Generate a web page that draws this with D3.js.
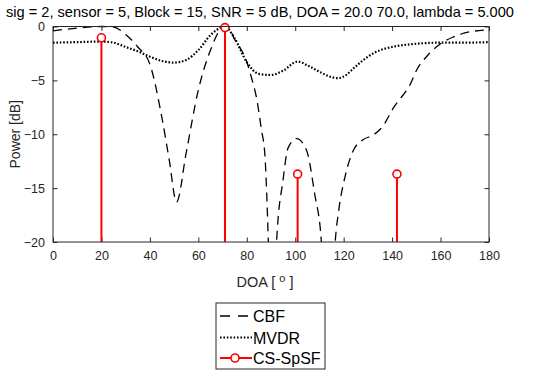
<!DOCTYPE html>
<html lang="en">
<head>
  <meta charset="UTF-8">
  <title>DOA spectrum</title>
  <script src="https://d3js.org/d3.v7.min.js"></script>
  <style>
    body { margin: 0; background: #fff; }
    text { font-family: "Liberation Sans", Arial, sans-serif; }
    .tick text { fill: #262626; font-size: 12.5px; }
    .tick line { stroke: #262626; }
  </style>
</head>
<body>
  <div id="chart"></div>
  <script>
    // CBF spectrum (dB)
    const cbfDoa = [0, 10, 20, 25, 30, 35, 40, 45, 48, 51, 55, 60, 65, 70, 72, 75, 80, 82, 84, 86, 87.5, 88.9, 90.6, 92.3, 95, 97, 100.6, 104.7, 108, 110.8, 113.6, 116.5, 118, 120.6, 124, 128, 132, 136, 141, 143, 147.4, 150, 155, 160, 165, 170, 180];
    const cbfPow = [-0.4, -0.15, 0, -0.05, -0.75, -1.9, -3.5, -8.5, -12.4, -16.3, -11.7, -5.9, -2.2, -0.1, 0, -1.2, -3.3, -4.8, -6.6, -9.5, -12, -20, -35, -20, -14.2, -11.3, -10.4, -11.5, -15.5, -20, -35, -20, -17, -13.9, -11.5, -10.5, -10.1, -9.3, -7.4, -6.8, -5.4, -4.1, -2.6, -1.6, -1.0, -0.6, -0.3];

    // MVDR spectrum (dB)
    const mvdrDoa = [0, 10, 20, 25, 30, 35, 40, 45, 50, 55, 60, 65, 70, 71, 75, 80, 85, 90, 95, 101, 105, 110, 115, 118, 120, 125, 130, 135, 140, 150, 160, 170, 180];
    const mvdrPow = [-1.5, -1.45, -1.4, -1.5, -1.9, -2.3, -2.8, -3.2, -3.35, -3.1, -2.2, -0.8, -0.05, 0, -1.1, -3.3, -4.4, -4.5, -4.1, -3.25, -3.6, -4.2, -4.7, -4.8, -4.65, -3.7, -2.8, -2.2, -1.9, -1.6, -1.5, -1.5, -1.45];

    // CS-SpSF stems
    const stemDoa = [20, 71, 101, 142];
    const stemPow = [-1.05, -0.1, -13.7, -13.7];

    const xTicks = [0, 20, 40, 60, 80, 100, 120, 140, 160, 180];
    const yTicks = [0, -5, -10, -15, -20];
    const legendLabels = ["CBF", "MVDR", "CS-SpSF"];
    const titleText = "sig = 2, sensor = 5, Block = 15, SNR = 5 dB, DOA = 20.0 70.0, lambda = 5.000";

    const W = 534, H = 372;
    const plot = { left: 53, right: 489, top: 26.5, bottom: 242 };

    const svg = d3.select("#chart").append("svg")
      .attr("width", W).attr("height", H);

    const x = d3.scaleLinear().domain([0, 180]).range([plot.left, plot.right]);
    const y = d3.scaleLinear().domain([-20, 0]).range([plot.bottom, plot.top]);

    svg.append("defs").append("clipPath").attr("id", "clip")
      .append("rect")
      .attr("x", plot.left).attr("y", plot.top - 2)
      .attr("width", plot.right - plot.left).attr("height", plot.bottom - plot.top + 2);

    // axes, MATLAB style ticks pointing inward
    const tk = 4.5;
    svg.append("g").attr("transform", `translate(0,${plot.bottom})`)
      .call(d3.axisBottom(x).tickValues(xTicks).tickSizeInner(-tk).tickSizeOuter(0).tickPadding(9))
      .call(g => g.select(".domain").remove());
    svg.append("g").attr("transform", `translate(0,${plot.top})`)
      .call(d3.axisTop(x).tickValues(xTicks).tickSizeInner(-tk).tickSizeOuter(0).tickFormat(""))
      .call(g => g.select(".domain").remove());
    svg.append("g").attr("transform", `translate(${plot.left},0)`)
      .call(d3.axisLeft(y).tickValues(yTicks).tickSizeInner(-tk).tickSizeOuter(0).tickPadding(8))
      .call(g => g.select(".domain").remove());
    svg.append("g").attr("transform", `translate(${plot.right},0)`)
      .call(d3.axisRight(y).tickValues(yTicks).tickSizeInner(-tk).tickSizeOuter(0).tickFormat(""))
      .call(g => g.select(".domain").remove());

    const plotArea = svg.append("g").attr("clip-path", "url(#clip)");

    const line = d3.line().curve(d3.curveMonotoneX);

    plotArea.append("path")
      .attr("d", line(cbfDoa.map((d, i) => [x(d), y(cbfPow[i])])))
      .attr("fill", "none").attr("stroke", "#000")
      .attr("stroke-width", 1.3).attr("stroke-dasharray", "9,6");

    plotArea.append("path")
      .attr("d", line(mvdrDoa.map((d, i) => [x(d), y(mvdrPow[i])])))
      .attr("fill", "none").attr("stroke", "#000")
      .attr("stroke-width", 2.2).attr("stroke-dasharray", "1.6,1.8");

    // stems
    plotArea.selectAll(".stem").data(stemDoa).enter().append("line")
      .attr("class", "stem")
      .attr("x1", d => x(d)).attr("x2", d => x(d))
      .attr("y1", y(-20) + 2).attr("y2", (d, i) => y(stemPow[i]))
      .attr("stroke", "#ff0000").attr("stroke-width", 2);
    svg.selectAll(".mark").data(stemDoa).enter().append("circle")
      .attr("class", "mark")
      .attr("cx", d => x(d)).attr("cy", (d, i) => y(stemPow[i]))
      .attr("r", 4).attr("fill", "#fff")
      .attr("stroke", "#ff0000").attr("stroke-width", 1.6);

    // box
    svg.append("rect")
      .attr("x", plot.left).attr("y", plot.top)
      .attr("width", plot.right - plot.left).attr("height", plot.bottom - plot.top)
      .attr("fill", "none").attr("stroke", "#262626").attr("stroke-width", 1);

    // title and labels
    svg.append("text").attr("x", 260).attr("y", 17)
      .attr("text-anchor", "middle").attr("font-size", 14.6).attr("fill", "#000")
      .text(titleText);

    svg.append("text")
      .attr("transform", `translate(20,${(plot.top + plot.bottom) / 2}) rotate(-90)`)
      .attr("text-anchor", "middle").attr("font-size", 14).attr("fill", "#262626")
      .text("Power [dB]");

    const xl = svg.append("text").attr("x", 265).attr("y", 287)
      .attr("text-anchor", "middle").attr("font-size", 14.5).attr("fill", "#262626");
    xl.append("tspan").text("DOA [ ");
    xl.append("tspan").attr("dy", -5).attr("font-size", 11).text("o");
    xl.append("tspan").attr("dy", 5).text(" ]");

    // legend
    const lg = svg.append("g");
    lg.append("rect").attr("x", 216).attr("y", 303).attr("width", 109).attr("height", 66)
      .attr("fill", "#fff").attr("stroke", "#262626").attr("stroke-width", 1);
    const rowY = [316, 337.5, 358];
    lg.append("line").attr("x1", 220).attr("x2", 252).attr("y1", rowY[0]).attr("y2", rowY[0])
      .attr("stroke", "#000").attr("stroke-width", 1.3).attr("stroke-dasharray", "10,8");
    lg.append("line").attr("x1", 220).attr("x2", 252).attr("y1", rowY[1]).attr("y2", rowY[1])
      .attr("stroke", "#000").attr("stroke-width", 2.2).attr("stroke-dasharray", "1.6,1.8");
    lg.append("line").attr("x1", 220).attr("x2", 252).attr("y1", rowY[2]).attr("y2", rowY[2])
      .attr("stroke", "#ff0000").attr("stroke-width", 2);
    lg.append("circle").attr("cx", 235).attr("cy", rowY[2]).attr("r", 4)
      .attr("fill", "#fff").attr("stroke", "#ff0000").attr("stroke-width", 1.6);
    lg.selectAll(".lt").data(legendLabels).enter().append("text")
      .attr("class", "lt")
      .attr("x", 253).attr("y", (d, i) => rowY[i] + 6)
      .attr("font-size", 16).attr("fill", "#000")
      .text(d => d);
  </script>
</body>
</html>
